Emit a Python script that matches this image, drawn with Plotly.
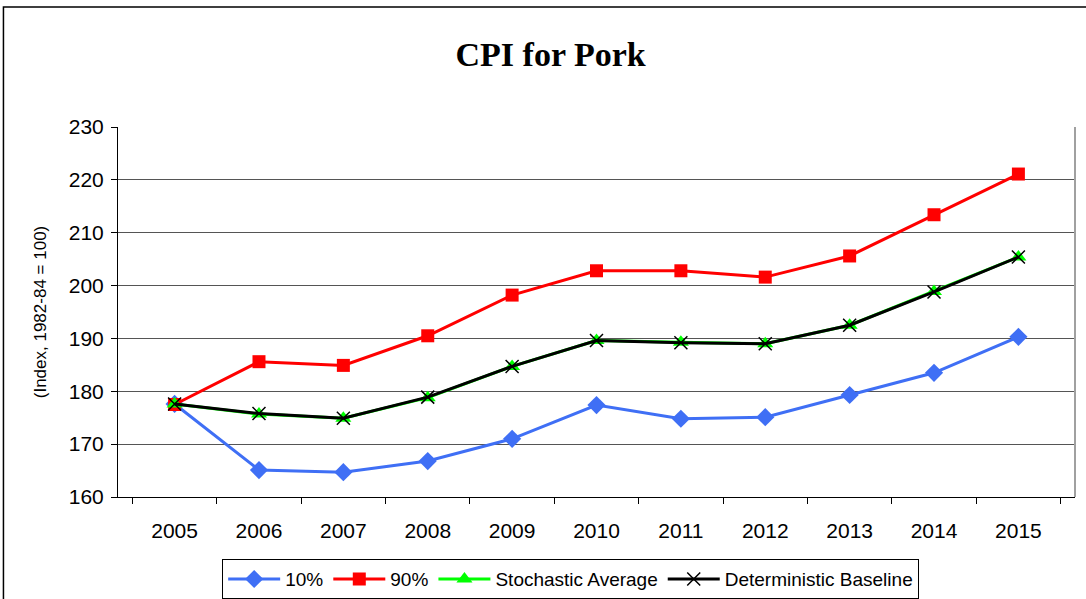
import plotly.graph_objects as go

years = ["2005", "2006", "2007", "2008", "2009", "2010", "2011", "2012", "2013", "2014", "2015"]
p10 = [177.6, 165.1, 164.7, 166.8, 171.0, 177.4, 174.8, 175.1, 179.3, 183.5, 190.3]
p90 = [177.5, 185.6, 184.9, 190.5, 198.2, 202.8, 202.8, 201.6, 205.6, 213.4, 221.1]
stoch = [177.6, 175.7, 174.9, 178.8, 184.7, 189.6, 189.3, 189.0, 192.5, 198.9, 205.4]
determ = [177.6, 175.8, 174.9, 178.9, 184.7, 189.6, 189.2, 189.0, 192.5, 198.8, 205.4]
y_ticks = [160, 170, 180, 190, 200, 210, 220, 230]

fig = go.Figure()
fig.add_trace(go.Scatter(x=years, y=p10, name="10%", mode="lines+markers",
                         line=dict(color="#3f6ff5", width=3),
                         marker=dict(symbol="diamond", size=14, color="#3f6ff5")))
fig.add_trace(go.Scatter(x=years, y=p90, name="90%", mode="lines+markers",
                         line=dict(color="#ff0000", width=3),
                         marker=dict(symbol="square", size=13, color="#ff0000")))
fig.add_trace(go.Scatter(x=years, y=stoch, name="Stochastic Average", mode="lines+markers",
                         line=dict(color="#00ff00", width=3),
                         marker=dict(symbol="triangle-up", size=14, color="#00ff00")))
fig.add_trace(go.Scatter(x=years, y=determ, name="Deterministic Baseline", mode="lines+markers",
                         line=dict(color="#000000", width=3),
                         marker=dict(symbol="x-thin", size=13, line=dict(color="#000000", width=1.5))))

fig.update_layout(
    width=1086, height=599,
    margin=dict(l=118, r=11, t=127, b=102, autoexpand=False),
    paper_bgcolor="white", plot_bgcolor="white",
    font=dict(family="Arial, Liberation Sans", color="black"),
    title=dict(text="<b>CPI for Pork</b>", x=0.507, xanchor="center", y=0.910, yanchor="middle",
               font=dict(family="Liberation Serif, Times New Roman", size=34, color="black")),
    showlegend=True,
    legend=dict(orientation="h", x=0.473, xanchor="center", y=-0.168, yanchor="top",
                bordercolor="black", borderwidth=1, font=dict(size=19),
                itemwidth=52, tracegroupgap=0, traceorder="normal"),
    xaxis=dict(type="category", tickson="boundaries", ticks="outside", ticklen=6,
               tickcolor="black", showline=True, linecolor="black", linewidth=1,
               showgrid=False, tickfont=dict(size=21), ticklabelstandoff=15),
    yaxis=dict(range=[160, 230], tickvals=y_ticks, ticks="outside", ticklen=6,
               tickcolor="black", showline=True, linecolor="black", linewidth=1,
               showgrid=True, gridcolor="#555555", gridwidth=1, tickfont=dict(size=21),
               ticklabelstandoff=3,
               title=dict(text="(Index, 1982-84 = 100)", font=dict(size=17), standoff=17),
               zeroline=False),
)
# plot area border (gray right) and outer chart border
fig.add_shape(type="line", xref="paper", yref="paper", x0=1, x1=1, y0=0, y1=1,
              line=dict(color="#a0a0a0", width=2))
fig.add_shape(type="rect", xref="paper", yref="paper",
              x0=-0.1197, x1=1.02, y0=-0.35, y1=1.324,
              line=dict(color="black", width=1.5), layer="below")
fig.write_html("out.html", config={"displayModeBar": False},
               post_script="document.body.style.margin='0';document.body.style.overflow='hidden';")
